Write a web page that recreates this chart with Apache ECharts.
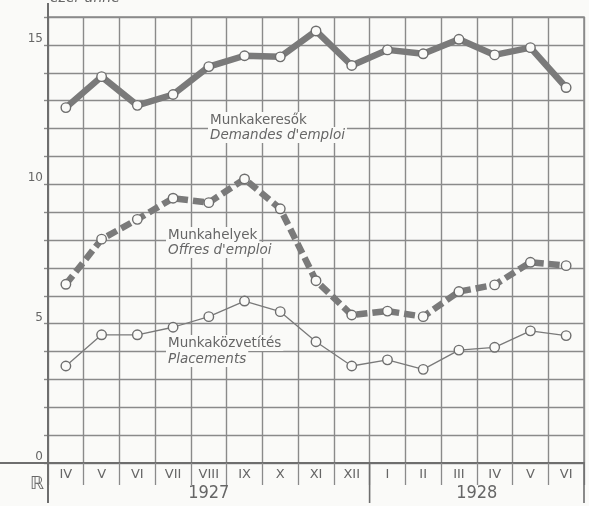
<!DOCTYPE html>
<html>
<head>
<meta charset="utf-8">
<script src="https://cdn.jsdelivr.net/npm/echarts@6/dist/echarts.min.js"></script>
<style>
html,body{margin:0;padding:0;background:#fafaf8;}
#chart{width:589px;height:506px;}
</style>
</head>
<body>
<div id="chart"></div>
<script>
// ---- data ----
var months = ['IV','V','VI','VII','VIII','IX','X','XI','XII','I','II','III','IV','V','VI'];
var years = ['1927','1928'];
var yearSpans = [9, 6];
var keresok = [12.75, 13.86, 12.83, 13.22, 14.22, 14.61, 14.57, 15.5, 14.26, 14.82, 14.68, 15.2, 14.64, 14.9, 13.47];
var helyek = [6.41, 8.03, 8.74, 9.50, 9.34, 10.19, 9.12, 6.54, 5.31, 5.45, 5.25, 6.15, 6.39, 7.20, 7.08];
var kozvetites = [3.48, 4.60, 4.60, 4.87, 5.25, 5.81, 5.43, 4.35, 3.48, 3.70, 3.36, 4.05, 4.15, 4.74, 4.57];
var yTickLabels = ['0', '5', '10', '15'];

var ink = '#7a7a7a';
var gridInk = '#8a8a8a';
var txt = '#666666';
var font = 'DejaVu Sans';

var chart = echarts.init(document.getElementById('chart'), null, {renderer: 'canvas'});

function markerSeries(name, data, width, dash) {
  return {
    name: name, type: 'line', data: data,
    symbol: 'circle', symbolSize: 9.5,
    itemStyle: {color: '#fafaf8', borderColor: '#6e6e6e', borderWidth: 1.4},
    lineStyle: {color: ink, width: width, type: dash || 'solid', cap: 'butt'},
    z: 5, silent: true
  };
}

var option = {
  backgroundColor: '#fafaf8',
  animation: false,
  grid: {left: 48, right: 5, top: 17, bottom: 43, show: true, borderColor: gridInk, borderWidth: 1.5, backgroundColor: 'transparent'},
  xAxis: {
    type: 'category', data: months, boundaryGap: true,
    axisLine: {show: true, lineStyle: {color: '#6e6e6e', width: 2}},
    axisTick: {show: true, interval: 0, length: 22, lineStyle: {color: gridInk, width: 1.3}},
    axisLabel: {interval: 0, margin: 5, color: txt, fontFamily: font, fontSize: 13},
    splitLine: {show: true, interval: 0, lineStyle: {color: gridInk, width: 1.4}}
  },
  yAxis: {
    type: 'value', min: 0, max: 16, interval: 1,
    axisLine: {show: true, lineStyle: {color: '#6e6e6e', width: 2}},
    axisTick: {show: true, length: 4, lineStyle: {color: gridInk, width: 1.4}},
    axisLabel: {
      color: txt, fontFamily: font, fontSize: 12, margin: 5, verticalAlign: 'bottom',
      formatter: function (v) { return v % 5 === 0 ? yTickLabels[v / 5] : ''; }
    },
    splitLine: {show: true, lineStyle: {color: gridInk, width: 1.4}}
  },
  series: [
    markerSeries('Munkakeresők', keresok, 6.5),
    markerSeries('Munkahelyek', helyek, 6.5, [11, 5]),
    markerSeries('Munkaközvetítés', kozvetites, 1.3)
  ]
};
chart.setOption(option);

// decorations computed from the axis scale
var centers = months.map(function (m, i) { return chart.convertToPixel({xAxisIndex: 0}, i); });
var colW = centers[1] - centers[0];
var leftX = centers[0] - colW / 2;
var rightX = centers[centers.length - 1] + colW / 2;
var y0 = chart.convertToPixel({yAxisIndex: 0}, 0);
var g = [];
function line(x1, y1, x2, y2, w, c) {
  g.push({type: 'line', shape: {x1: x1, y1: y1, x2: x2, y2: y2}, style: {stroke: c || '#6e6e6e', lineWidth: w}, z: 3, silent: true});
}
// extended axis lines
line(0, y0, leftX, y0, 2);
line(leftX, 3, leftX, 503, 2);
line(rightX, y0, rightX, 503, 1.6);
// year separators and labels
var start = 0;
years.forEach(function (yr, k) {
  var x1 = leftX + start * colW, x2 = leftX + (start + yearSpans[k]) * colW;
  if (k > 0) line(x1, y0, x1, 503, 1.6);
  g.push({type: 'text', x: (x1 + x2) / 2, y: y0 + 30, silent: true, z: 4,
    style: {text: yr, fill: txt, font: '18px "DejaVu Sans Condensed", "DejaVu Sans", sans-serif', textAlign: 'center', textVerticalAlign: 'middle'}});
  start += yearSpans[k];
});
// corner symbol
g.push({type: 'text', x: 37, y: y0 + 21, silent: true, style: {text: 'ℝ', fill: txt, font: '18px "DejaVu Sans"', textAlign: 'center', textVerticalAlign: 'middle'}});
// unit text at top (clipped)
g.push({type: 'text', x: 50, y: -9, silent: true, style: {text: 'ezer-ünne', fill: txt, font: 'italic 14px "DejaVu Sans"', textAlign: 'left', textVerticalAlign: 'top'}});
// series labels
function lbl(x, y, text, italic) {
  g.push({type: 'text', x: x, y: y, silent: true, z: 4,
    style: {text: text, fill: txt, font: (italic ? 'italic ' : '') + '13.5px "DejaVu Sans"', textAlign: 'left', textVerticalAlign: 'middle',
      backgroundColor: '#fafaf8', padding: [1, 2, 1, 2]}});
}
lbl(208, 120, 'Munkakeresők', false);
lbl(208, 135, "Demandes d'emploi", true);
lbl(166, 235, 'Munkahelyek', false);
lbl(166, 250, "Offres d'emploi", true);
lbl(166, 343, 'Munkaközvetítés', false);
lbl(166, 359, 'Placements', true);

chart.setOption({graphic: g});
</script>
</body>
</html>
